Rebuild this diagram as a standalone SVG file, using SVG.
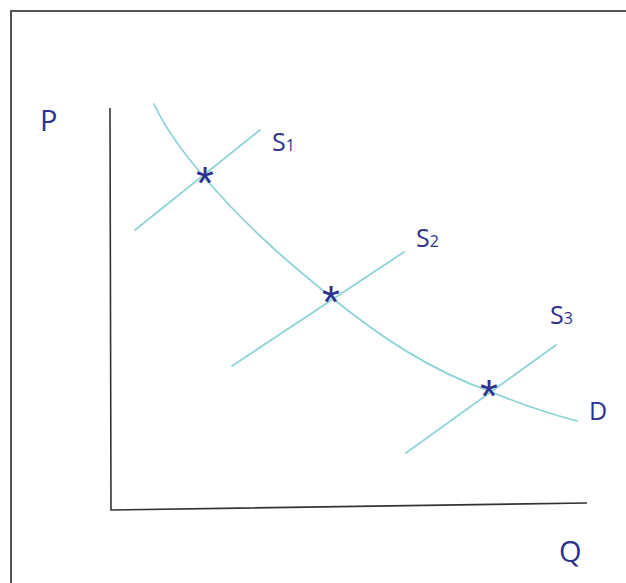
<svg xmlns="http://www.w3.org/2000/svg" width="626" height="583" viewBox="0 0 626 583">
<style>
.frame{stroke:#555;stroke-width:2;fill:none}
.axis{stroke:#333;stroke-width:1.6;fill:none}
.curve{stroke:#8fd3d8;stroke-width:1.8;fill:none;stroke-linecap:round}
.lbl{font-family:"Open Sans","Liberation Sans",sans-serif;fill:#2e3190}
.star{font-family:"Liberation Sans",sans-serif;fill:#2e3190;font-size:46px;text-anchor:middle}
</style>
<rect width="626" height="583" fill="#fff"/>
<path class="frame" d="M11,583 V11 H626"/>
<g id="axes">
<path class="axis" d="M110,108 L111,510 L587,503"/>
<text class="lbl" x="40" y="131" font-size="29">P</text>
<text class="lbl" x="559" y="562" font-size="29">Q</text>
</g>
<g id="connectors">
<path id="demand" class="curve" d="M154,104 C165,128 185,155 205,178 C245,225 285,260 331,297 C380,337 430,370 489,391 C520,404 550,414 577,421"/>
<path id="s1" class="curve" d="M135,230 L260,130"/>
<path id="s2" class="curve" d="M232,366 L404,252"/>
<path id="s3" class="curve" d="M406,453 L556,345"/>
</g>
<g id="labels">
<text class="lbl" x="272" y="151" font-size="25">S<tspan font-size="16">1</tspan></text>
<text class="lbl" x="416" y="247" font-size="25">S<tspan font-size="16">2</tspan></text>
<text class="lbl" x="550" y="324" font-size="25">S<tspan font-size="16">3</tspan></text>
<text class="lbl" x="589" y="420" font-size="25">D</text>
</g>
<g id="equilibria">
<text class="star" x="205" y="199">*</text>
<text class="star" x="331" y="318">*</text>
<text class="star" x="489" y="412">*</text>
</g>
</svg>
